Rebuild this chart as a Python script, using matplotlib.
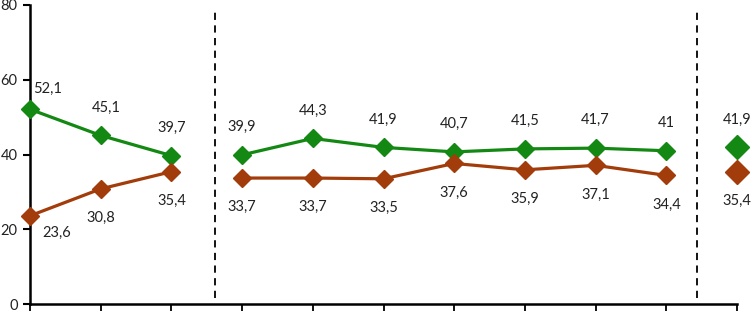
import numpy as np
import matplotlib.pyplot as plt

plt.rcParams['font.family'] = ['Lato', 'DejaVu Sans']

# Data (three groups: 3 points | 7 points | 1 single point)
x_pos = list(range(11))
green_vals = [52.1, 45.1, 39.7, 39.9, 44.3, 41.9, 40.7, 41.5, 41.7, 41.0, 41.9]
brown_vals = [23.6, 30.8, 35.4, 33.7, 33.7, 33.5, 37.6, 35.9, 37.1, 34.4, 35.4]
green_labels = ['52,1', '45,1', '39,7', '39,9', '44,3', '41,9', '40,7', '41,5', '41,7', '41', '41,9']
brown_labels = ['23,6', '30,8', '35,4', '33,7', '33,7', '33,5', '37,6', '35,9', '37,1', '34,4', '35,4']
groups = [(0, 3), (3, 10), (10, 11)]
dividers = [2.62, 9.43]
y_ticks = [0, 20, 40, 60, 80]

green = '#138913'
brown = '#a33c0b'

fig = plt.figure(figsize=(7.52, 3.11), dpi=100)
ax = fig.add_axes([30 / 752, 7 / 311, 707 / 752, 299 / 311])

# Lines per group, single point just markers
for a, b in groups:
    xs = x_pos[a:b]
    big = (b - a) == 1
    ms = 12 if big else 9
    ax.plot(xs, green_vals[a:b], color=green, lw=2.3, marker='D', ms=ms,
            clip_on=False, zorder=3)
    ax.plot(xs, brown_vals[a:b], color=brown, lw=2.3, marker='D', ms=ms,
            clip_on=False, zorder=3)

# Data labels (offsets in points)
g_off = {0: (13, 15), 1: (4, 20)}
b_off = {0: (19, -12)}
for i in range(len(x_pos)):
    dx, dy = g_off.get(i, (0, 20))
    ax.annotate(green_labels[i], (x_pos[i], green_vals[i]), xytext=(dx, dy),
                textcoords='offset points', ha='center', va='center',
                fontsize=10.5, color='#222222', annotation_clip=False)
    dx, dy = b_off.get(i, (0, -21))
    ax.annotate(brown_labels[i], (x_pos[i], brown_vals[i]), xytext=(dx, dy),
                textcoords='offset points', ha='center', va='center',
                fontsize=10.5, color='#222222', annotation_clip=False)

# Dashed separators
for d in dividers:
    ax.plot([d, d], [1.5, 78.5], color='black', lw=1.3, ls=(0, (4, 3)))

ax.set_xlim(0, 10)
ax.set_ylim(0, 80)
ax.set_yticks(y_ticks)
ax.set_xticks(x_pos)
ax.set_xticklabels([])
for s in ['top', 'right']:
    ax.spines[s].set_visible(False)
ax.spines['left'].set_linewidth(1.8)
ax.spines['bottom'].set_linewidth(1.8)
ax.tick_params(axis='y', length=5, width=1.5, pad=4, labelsize=10.5, labelcolor='#222222')
ax.tick_params(axis='x', length=8, width=1.3)

plt.savefig('out.png', dpi=100)
